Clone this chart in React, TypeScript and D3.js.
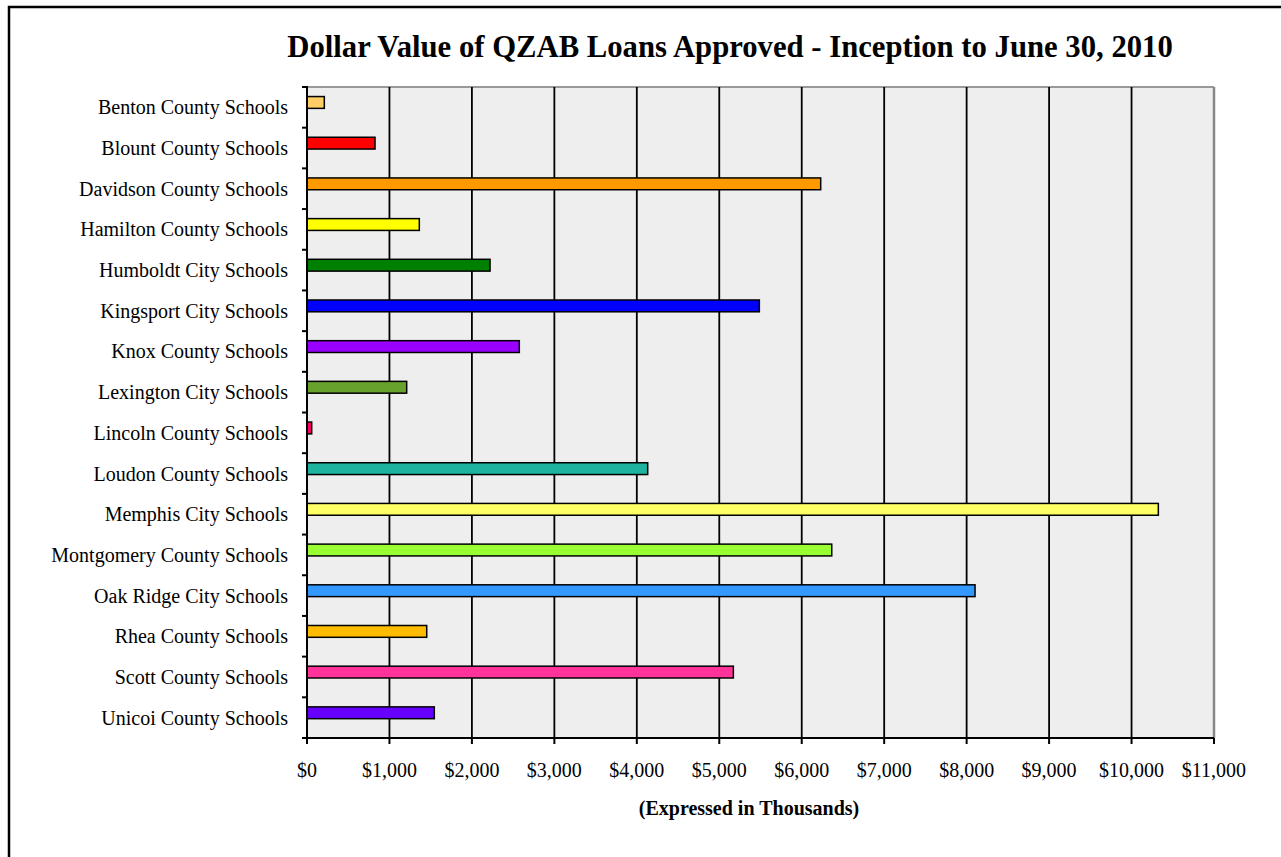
import React from "react";
import * as d3 from "d3";

const categories = [
  "Benton County Schools",
  "Blount County Schools",
  "Davidson County Schools",
  "Hamilton County Schools",
  "Humboldt City Schools",
  "Kingsport City Schools",
  "Knox County Schools",
  "Lexington City Schools",
  "Lincoln County Schools",
  "Loudon County Schools",
  "Memphis City Schools",
  "Montgomery County Schools",
  "Oak Ridge City Schools",
  "Rhea County Schools",
  "Scott County Schools",
  "Unicoi County Schools",
];

const values = [210, 825, 6230, 1362, 2220, 5486, 2575, 1209, 57, 4132, 10325, 6364, 8102, 1452, 5171, 1544];

const barColors = [
  "#FFCC66", "#FF0000", "#FF9900", "#FFFF00", "#008000", "#0000FF", "#9900FF", "#66A22C",
  "#FF0066", "#1DB39E", "#FFFF66", "#99FF33", "#3399FF", "#FFBB00", "#FF3399", "#6600FF",
];

const xTicks = [0, 1000, 2000, 3000, 4000, 5000, 6000, 7000, 8000, 9000, 10000, 11000];

const title = "Dollar Value of QZAB Loans Approved - Inception to June 30, 2010";
const xAxisTitle = "(Expressed in Thousands)";

export default function App() {
  React.useEffect(() => {
    document.body.style.margin = "0";
  }, []);

  const W = 1281;
  const H = 857;
  const left = 307;
  const right = 1214;
  const top = 87;
  const bottom = 738;

  const x = d3.scaleLinear().domain([0, 11000]).range([left, right]);
  const y = d3.scaleBand<string>().domain(categories).range([top, bottom]).padding(0);
  const bw = y.bandwidth();
  const fmt = (v: number) => "$" + d3.format(",")(v);
  const font = "'Liberation Serif', 'Times New Roman', serif";

  return (
    <svg width={W} height={H} style={{ position: "absolute", left: 0, top: 0, background: "#fff" }} fontFamily={font}>
      <rect x={9} y={7} width={1400} height={1000} fill="#fff" stroke="#000" strokeWidth={2.5} />
      <text x={730} y={57} textAnchor="middle" fontSize={30.7} fontWeight="bold">{title}</text>

      <rect x={left} y={top} width={right - left} height={bottom - top} fill="#EEEEEE" />
      <line x1={left} x2={right} y1={top} y2={top} stroke="#999" strokeWidth={2} />
      <line x1={right} x2={right} y1={top} y2={bottom} stroke="#888" strokeWidth={2.5} />

      {xTicks.slice(1, -1).map((t) => (
        <line key={"g" + t} x1={x(t)} x2={x(t)} y1={top} y2={bottom} stroke="#000" strokeWidth={1.8} />
      ))}

      {categories.map((c, i) => (
        <rect
          key={c}
          x={x(0)}
          y={(y(c) as number) + bw * 0.235}
          width={x(values[i]) - x(0)}
          height={bw * 0.29}
          fill={barColors[i]}
          stroke="#000"
          strokeWidth={1.5}
        />
      ))}

      <line x1={left} x2={left} y1={top - 1} y2={bottom} stroke="#000" strokeWidth={2} />
      {categories.map((c) => (
        <line key={"t" + c} x1={left - 5} x2={left} y1={y(c) as number} y2={y(c) as number} stroke="#000" strokeWidth={2} />
      ))}
      <line x1={left - 5} x2={left} y1={bottom} y2={bottom} stroke="#000" strokeWidth={2} />

      {categories.map((c) => (
        <text key={"l" + c} x={288} y={(y(c) as number) + bw / 2} dy="0.35em" textAnchor="end" fontSize={20}>
          {c}
        </text>
      ))}

      <line x1={left} x2={right} y1={bottom} y2={bottom} stroke="#000" strokeWidth={2} />
      {xTicks.map((t) => (
        <g key={"x" + t}>
          <line x1={x(t)} x2={x(t)} y1={bottom} y2={bottom + 6} stroke="#000" strokeWidth={2} />
          <text x={x(t)} y={777} textAnchor="middle" fontSize={20}>{fmt(t)}</text>
        </g>
      ))}

      <text x={749} y={815} textAnchor="middle" fontSize={20} fontWeight="bold">{xAxisTitle}</text>
    </svg>
  );
}
